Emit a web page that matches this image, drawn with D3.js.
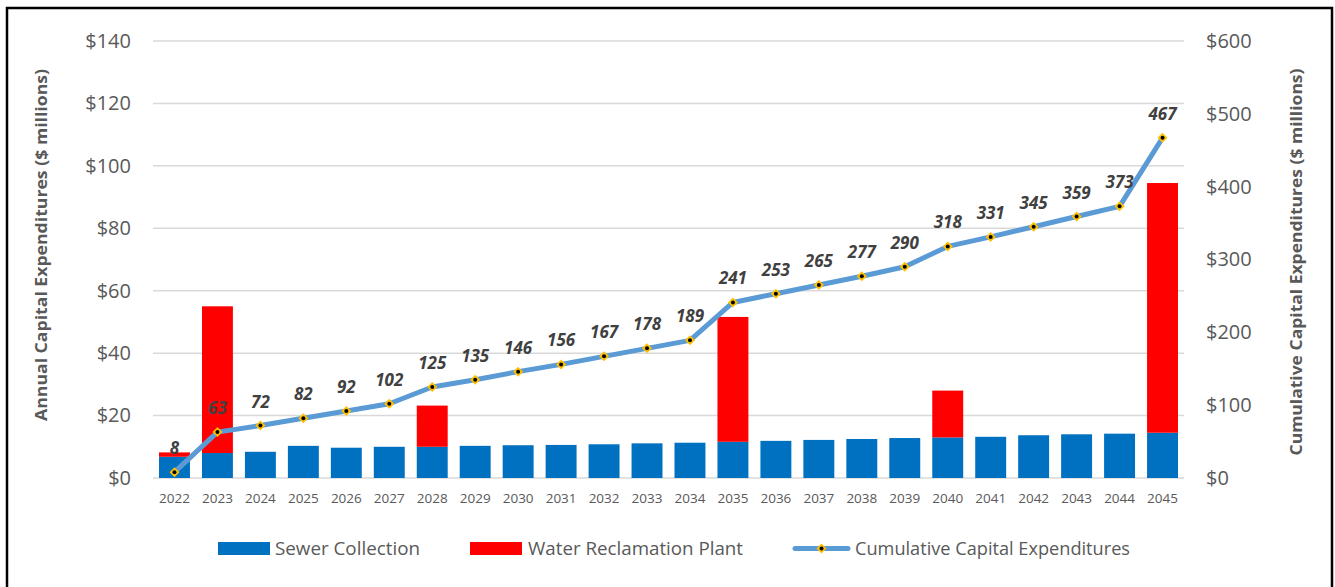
<!DOCTYPE html>
<html><head><meta charset="utf-8">
<script src="https://cdn.jsdelivr.net/npm/d3@7"></script>
<style>body{margin:0;background:#fff}svg{display:block}</style>
</head><body>
<svg id="c" width="1335" height="587"></svg>
<script>
const years = ["2022","2023","2024","2025","2026","2027","2028","2029","2030","2031","2032","2033","2034","2035","2036","2037","2038","2039","2040","2041","2042","2043","2044","2045"];
const sewerCollection = [6.8,8.0,8.4,10.3,9.7,10.0,10.0,10.3,10.5,10.6,10.8,11.1,11.3,11.6,11.9,12.2,12.5,12.8,13.0,13.2,13.7,14.0,14.2,14.5];
const waterReclamation = [1.4,47.0,0,0,0,0,13.2,0,0,0,0,0,0,40.0,0,0,0,0,15.0,0,0,0,0,80.0];
const cumulative = [8,63,72,82,92,102,125,135,146,156,167,178,189,241,253,265,277,290,318,331,345,359,373,467];
const leftTicks = [0,20,40,60,80,100,120,140];
const rightTicks = [0,100,200,300,400,500,600];

const svg = d3.select("#c");
const font = "'Open Sans', sans-serif";
const pL = 153, pR = 1184, pT = 41, pB = 478;

svg.append("rect").attr("x",7).attr("y",8).attr("width",1325).attr("height",600)
  .attr("fill","none").attr("stroke","#000").attr("stroke-width",2.5);

const x = d3.scaleBand().domain(years).range([pL,pR]).paddingInner(0.28).paddingOuter(0.14);
const yL = d3.scaleLinear().domain([0,140]).range([pB,pT]);
const yR = d3.scaleLinear().domain([0,600]).range([pB,pT]);

// gridlines
svg.append("g").selectAll("line").data(leftTicks).join("line")
  .attr("x1",pL).attr("x2",pR).attr("y1",d=>yL(d)).attr("y2",d=>yL(d))
  .attr("stroke","#d9d9d9").attr("stroke-width",1.5);

// left axis
const axL = d3.axisLeft(yL).tickValues(leftTicks).tickFormat(d=>"$"+d).tickSize(0).tickPadding(0);
const gL = svg.append("g").attr("transform",`translate(131,0)`).call(axL);
gL.select(".domain").remove();
gL.selectAll("text").attr("font-family",font).attr("font-size",20).attr("fill","#595959");

// right axis
const axR = d3.axisRight(yR).tickValues(rightTicks).tickFormat(d=>"$"+d).tickSize(0).tickPadding(0);
const gR = svg.append("g").attr("transform",`translate(1206,0)`).call(axR);
gR.select(".domain").remove();
gR.selectAll("text").attr("font-family",font).attr("font-size",20).attr("fill","#595959");

// x axis
const axX = d3.axisBottom(x).tickSize(0).tickPadding(0);
const gX = svg.append("g").attr("transform",`translate(0,${pB+20})`).call(axX);
gX.select(".domain").remove();
gX.selectAll("text").attr("font-family",font).attr("font-size",13.5).attr("fill","#595959").attr("dy","0.35em");

// axis titles
svg.append("text").attr("transform","translate(41,245) rotate(-90)").attr("text-anchor","middle")
  .attr("dy","0.35em")
  .attr("font-family",font).attr("font-size",16).attr("font-weight","bold").attr("fill","#595959")
  .attr("textLength",352).attr("lengthAdjust","spacingAndGlyphs")
  .text("Annual Capital Expenditures ($ millions)");
svg.append("text").attr("transform","translate(1296,262) rotate(-90)").attr("text-anchor","middle")
  .attr("dy","0.35em")
  .attr("font-family",font).attr("font-size",16).attr("font-weight","bold").attr("fill","#595959")
  .attr("textLength",387).attr("lengthAdjust","spacingAndGlyphs")
  .text("Cumulative Capital Expenditures ($ millions)");

// bars
const bars = svg.append("g");
bars.selectAll("rect.s").data(years).join("rect").attr("class","s")
  .attr("x",d=>x(d)).attr("width",x.bandwidth())
  .attr("y",(d,i)=>yL(sewerCollection[i])).attr("height",(d,i)=>yL(0)-yL(sewerCollection[i]))
  .attr("fill","#0070C0");
bars.selectAll("rect.w").data(years).join("rect").attr("class","w")
  .attr("x",d=>x(d)).attr("width",x.bandwidth())
  .attr("y",(d,i)=>yL(sewerCollection[i]+waterReclamation[i])).attr("height",(d,i)=>yL(0)-yL(waterReclamation[i]))
  .attr("fill","#FF0000");

// line
const cx = d => x(d)+x.bandwidth()/2;
const line = d3.line().x((d,i)=>cx(years[i])).y(d=>yR(d));
svg.append("path").datum(cumulative).attr("d",line).attr("fill","none")
  .attr("stroke","#5B9BD5").attr("stroke-width",5).attr("stroke-linejoin","round");

const mk = svg.append("g");
const diamond = "M0,-5L5,0L0,5L-5,0Z";
mk.selectAll("path").data(cumulative).join("path")
  .attr("transform",(d,i)=>`translate(${cx(years[i])},${yR(d)})`)
  .attr("d",diamond).attr("fill","#FFC000");
mk.selectAll("circle").data(cumulative).join("circle")
  .attr("cx",(d,i)=>cx(years[i])).attr("cy",d=>yR(d)).attr("r",2).attr("fill","#000");

// labels
svg.append("g").selectAll("text").data(cumulative).join("text")
  .attr("x",(d,i)=>cx(years[i])).attr("y",d=>yR(d)-18)
  .attr("text-anchor","middle").attr("font-family",font).attr("font-size",17)
  .attr("font-weight","bold").attr("font-style","italic").attr("fill","#404040")
  .text(d=>d);

// legend
const lg = svg.append("g").attr("font-family",font).attr("font-size",18).attr("fill","#595959");
lg.append("rect").attr("x",218).attr("y",542).attr("width",52).attr("height",13).attr("fill","#0070C0");
lg.append("text").attr("x",275).attr("y",555).attr("textLength",145).attr("lengthAdjust","spacingAndGlyphs").text("Sewer Collection");
lg.append("rect").attr("x",470).attr("y",542).attr("width",52).attr("height",13).attr("fill","#FF0000");
lg.append("text").attr("x",528).attr("y",555).attr("textLength",215).attr("lengthAdjust","spacingAndGlyphs").text("Water Reclamation Plant");
lg.append("line").attr("x1",795).attr("x2",848).attr("y1",548.5).attr("y2",548.5).attr("stroke","#5B9BD5").attr("stroke-width",5).attr("stroke-linecap","round");
lg.append("path").attr("transform","translate(821.5,548.5)").attr("d",diamond).attr("fill","#FFC000");
lg.append("circle").attr("cx",821.5).attr("cy",548.5).attr("r",2).attr("fill","#000");
lg.append("text").attr("x",855).attr("y",555).attr("textLength",275).attr("lengthAdjust","spacingAndGlyphs").text("Cumulative Capital Expenditures");
</script>
</body></html>
